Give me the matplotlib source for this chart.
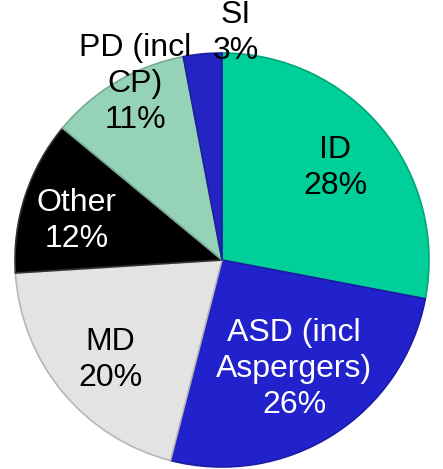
import matplotlib.pyplot as plt
from matplotlib.colors import to_rgb

# disability groups, clockwise from 12 o'clock
labels = ['ID', 'ASD (incl\nAspergers)', 'MD', 'Other', 'PD (incl\nCP)', 'SI']
shares = [28, 26, 20, 12, 11, 3]
colors = ['#00CF9A', '#2222CC', '#E3E3E3', '#000000', '#96D2B8', '#2424C4']
text_colors = ['black', 'white', 'black', 'white', 'black', 'black']

# label centres in pixels (x from left, y from top) of the 443x469 picture
label_px = [(335, 168), (294, 369), (110, 360), (77, 221), (135, 84), (236, 33)]

W, H = 443, 469
cx, cy, R = 222, 260, 207   # pie centre and radius in pixels


def shade(c, f):
    r, g, b = to_rgb(c)
    return (r * f, g * f, b * f)


plt.rcParams['font.family'] = ['Liberation Sans', 'DejaVu Sans']

fig = plt.figure(figsize=(W / 100, H / 100), dpi=100)
ax = fig.add_axes([0, 0, 1, 1])

wedges, _ = ax.pie(shares, colors=colors, startangle=90, counterclock=False,
                   radius=1, center=(0, 0),
                   wedgeprops=dict(linewidth=0))
# soft bevel: darker rim on each slice
for w, c in zip(wedges, colors):
    w.set_edgecolor(shade(c, 0.8) if c != '#000000' else '#333333')
    w.set_linewidth(1.2)

ax.set_xlim(-cx / R, (W - cx) / R)
ax.set_ylim(-(H - cy) / R, cy / R)
ax.set_aspect('auto')
ax.axis('off')

for lab, val, tc, (px, py) in zip(labels, shares, text_colors, label_px):
    ax.text((px - cx) / R, (cy - py) / R, f'{lab}\n{val}%', ha='center', va='center',
            fontsize=23, color=tc, linespacing=1.28)

fig.savefig('out.png', dpi=100)
